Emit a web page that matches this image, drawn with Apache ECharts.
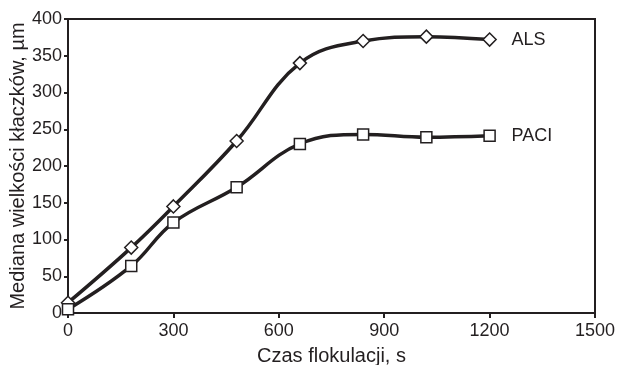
<!DOCTYPE html>
<html>
<head>
<meta charset="utf-8">
<script src="https://cdn.jsdelivr.net/npm/echarts@6/dist/echarts.min.js"></script>
<style>
  html, body { margin: 0; padding: 0; background: #fff; }
  #chart { width: 617px; height: 365px; }
</style>
</head>
<body>
<div id="chart"></div>
<script>
// Flocculation time, s
const czas = [0, 180, 300, 480, 660, 840, 1020, 1200];
// Median floc size, µm
const als  = [14, 89, 145, 234, 340, 370, 376, 372];
const paci = [5, 64, 123, 171, 230, 243, 239, 241];

const ink = '#231f20';
const font = 'Liberation Sans, Arial, sans-serif';

function pairs(ys) {
    return czas.map((x, i) => [x, ys[i]]);
}

function lineSeries(name, ys, symbol) {
    return {
        name: name,
        type: 'line',
        data: pairs(ys),
        smooth: 0.4,
        symbol: symbol,
        symbolSize: symbol === 'diamond' ? 13 : 11,
        showAllSymbol: true,
        lineStyle: { color: ink, width: 3.5 },
        itemStyle: { color: '#fff', borderColor: ink, borderWidth: 1.5 },
        endLabel: {
            show: true,
            formatter: '{a}',
            distance: 22,
            color: ink,
            fontFamily: font,
            fontSize: 18
        },
        z: 3
    };
}

const chart = echarts.init(document.getElementById('chart'), null, { renderer: 'canvas' });

chart.setOption({
    animation: false,
    grid: {
        left: 68,
        right: 22,
        top: 19,
        bottom: 52,
        containLabel: false,
        outerBoundsMode: 'none',
        show: true,
        borderColor: ink,
        borderWidth: 2,
        backgroundColor: 'transparent'
    },
    xAxis: {
        type: 'value',
        min: 0,
        max: 1500,
        interval: 300,
        name: 'Czas flokulacji, s',
        nameLocation: 'middle',
        nameGap: 33,
        nameMoveOverlap: false,
        nameTextStyle: { color: ink, fontFamily: font, fontSize: 20 },
        axisLine: { show: true, lineStyle: { color: ink, width: 2 } },
        axisTick: { show: true, inside: false, length: 5, lineStyle: { color: ink, width: 2 } },
        axisLabel: { color: ink, fontFamily: font, fontSize: 18, margin: 9, formatter: v => String(v) },
        splitLine: { show: false }
    },
    yAxis: {
        type: 'value',
        min: 0,
        max: 400,
        interval: 50,
        name: 'Mediana wielkości kłaczków, µm',
        nameLocation: 'middle',
        nameGap: 40,
        nameMoveOverlap: false,
        nameTextStyle: { color: ink, fontFamily: font, fontSize: 20 },
        axisLine: { show: true, lineStyle: { color: ink, width: 2 } },
        axisTick: { show: true, inside: false, length: 4, lineStyle: { color: ink, width: 2 } },
        axisLabel: { color: ink, fontFamily: font, fontSize: 18, margin: 6 },
        splitLine: { show: false }
    },
    series: [
        lineSeries('ALS', als, 'diamond'),
        lineSeries('PACI', paci, 'rect')
    ]
});
</script>
</body>
</html>
